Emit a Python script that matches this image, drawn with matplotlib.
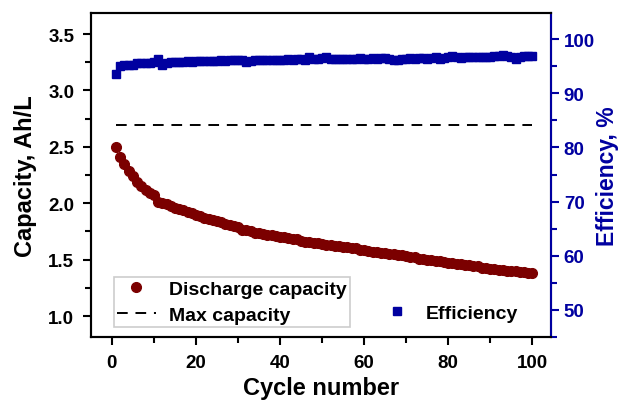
import matplotlib.pyplot as plt
from matplotlib.ticker import MultipleLocator
from matplotlib.lines import Line2D

cycles = list(range(1, 101))

discharge_capacity = [
    2.50, 2.41, 2.35, 2.29, 2.24, 2.19, 2.15, 2.12, 2.09, 2.07,
    2.01, 2.00, 1.99, 1.98, 1.96, 1.95, 1.94, 1.92, 1.91, 1.90,
    1.89, 1.87, 1.86, 1.85, 1.84, 1.83, 1.82, 1.81, 1.80, 1.79,
    1.76, 1.76, 1.75, 1.74, 1.74, 1.73, 1.72, 1.72, 1.71, 1.70,
    1.70, 1.69, 1.68, 1.68, 1.67, 1.66, 1.66, 1.65, 1.65, 1.64,
    1.63, 1.63, 1.62, 1.62, 1.61, 1.61, 1.60, 1.60, 1.59, 1.59,
    1.58, 1.57, 1.57, 1.56, 1.56, 1.55, 1.55, 1.54, 1.54, 1.53,
    1.52, 1.52, 1.51, 1.51, 1.50, 1.50, 1.49, 1.49, 1.48, 1.47,
    1.47, 1.46, 1.46, 1.45, 1.45, 1.44, 1.44, 1.43, 1.43, 1.42,
    1.42, 1.41, 1.41, 1.40, 1.40, 1.40, 1.39, 1.39, 1.38, 1.38,
]

efficiency = [
    93.5, 95.0, 95.2, 95.3, 95.3, 95.5, 95.5, 95.6, 95.6, 95.7,
    96.3, 95.2, 95.6, 95.7, 95.7, 95.8, 95.8, 95.9, 95.8, 95.9,
    95.9, 96.0, 95.9, 96.0, 96.0, 96.1, 96.0, 96.1, 96.1, 96.2,
    96.1, 95.8, 95.9, 96.1, 96.2, 96.1, 96.2, 96.2, 96.1, 96.2,
    96.2, 96.3, 96.2, 96.3, 96.3, 96.2, 96.6, 96.4, 96.3, 96.5,
    96.7, 96.3, 96.4, 96.3, 96.3, 96.4, 96.4, 96.3, 96.5, 96.4,
    96.4, 96.5, 96.4, 96.5, 96.5, 96.4, 96.1, 96.2, 96.3, 96.4,
    96.5, 96.4, 96.5, 96.5, 96.4, 96.5, 96.6, 96.4, 96.5, 96.6,
    96.8, 96.6, 96.5, 96.6, 96.6, 96.7, 96.6, 96.7, 96.6, 96.7,
    96.8, 96.9, 97.0, 96.8, 96.7, 96.3, 96.7, 96.8, 96.9, 96.8,
]

max_capacity = 2.69
max_cycles = [1, 100]

red = '#7b0000'
blue = '#0000a0'

plt.rcParams['font.family'] = ['Liberation Sans', 'DejaVu Sans']
plt.rcParams['font.weight'] = 'bold'

fig, ax = plt.subplots(figsize=(6.18, 4.02), dpi=100)
fig.subplots_adjust(left=0.147, right=0.892, bottom=0.159, top=0.965)
ax2 = ax.twinx()

ax.plot(cycles, discharge_capacity, 'o', color=red, ms=7, mec=red)
ax.plot(max_cycles, [max_capacity] * 2, color='black', lw=1.4, dashes=(5.5, 4))
ax2.plot(cycles, efficiency, 's', color=blue, ms=6, mec=blue)

ax.set_xlim(-5, 104.5)
ax.set_ylim(0.814, 3.686)
ax2.set_ylim(45, 104.8)

ax.xaxis.set_major_locator(MultipleLocator(20))
ax.xaxis.set_minor_locator(MultipleLocator(10))
ax.yaxis.set_major_locator(MultipleLocator(0.5))
ax.yaxis.set_minor_locator(MultipleLocator(0.25))
ax2.yaxis.set_major_locator(MultipleLocator(10))
ax2.yaxis.set_minor_locator(MultipleLocator(5))

for a in (ax, ax2):
    for s in a.spines.values():
        s.set_linewidth(1.5)
ax2.spines['right'].set_color(blue)

ax.tick_params(axis='both', which='major', direction='out', length=6, width=1.5, labelsize=13.5)
ax.tick_params(axis='x', which='major', pad=6)
ax.tick_params(axis='y', which='major', pad=6)
ax.tick_params(axis='both', which='minor', direction='out', length=4, width=1.5)
ax2.tick_params(axis='y', which='major', direction='out', length=6, width=1.5,
                labelsize=13.5, color=blue, labelcolor=blue, pad=3)
ax2.tick_params(axis='y', which='minor', direction='out', length=4, width=1.5, color=blue)

ax.set_xlabel('Cycle number', fontsize=17, fontweight='bold', labelpad=4)
ax.set_ylabel('Capacity, Ah/L', fontsize=17, fontweight='bold', labelpad=8)
ax2.set_ylabel('Efficiency, %', fontsize=16.5, fontweight='bold', color=blue, labelpad=1)

h1 = [Line2D([], [], ls='none', marker='o', color=red, ms=7),
      Line2D([], [], color='black', lw=1.4, dashes=(5.5, 4))]
leg = ax.legend(h1, ['Discharge capacity', 'Max capacity'], loc='lower left',
                bbox_to_anchor=(0.05, 0.031), fontsize=14, frameon=True,
                fancybox=False, edgecolor='#c0c0c0', borderpad=0.15,
                handlelength=2.0, handletextpad=0.7, labelspacing=0.45, borderaxespad=0)
leg.get_frame().set_linewidth(1.2)

h2 = [Line2D([], [], ls='none', marker='s', color=blue, ms=6)]
ax2.legend(h2, ['Efficiency'], loc='lower right', bbox_to_anchor=(0.945, 0.022),
           fontsize=14, frameon=False, handlelength=1.0, handletextpad=1.0,
           borderaxespad=0)

fig.savefig('out.png', dpi=100)
